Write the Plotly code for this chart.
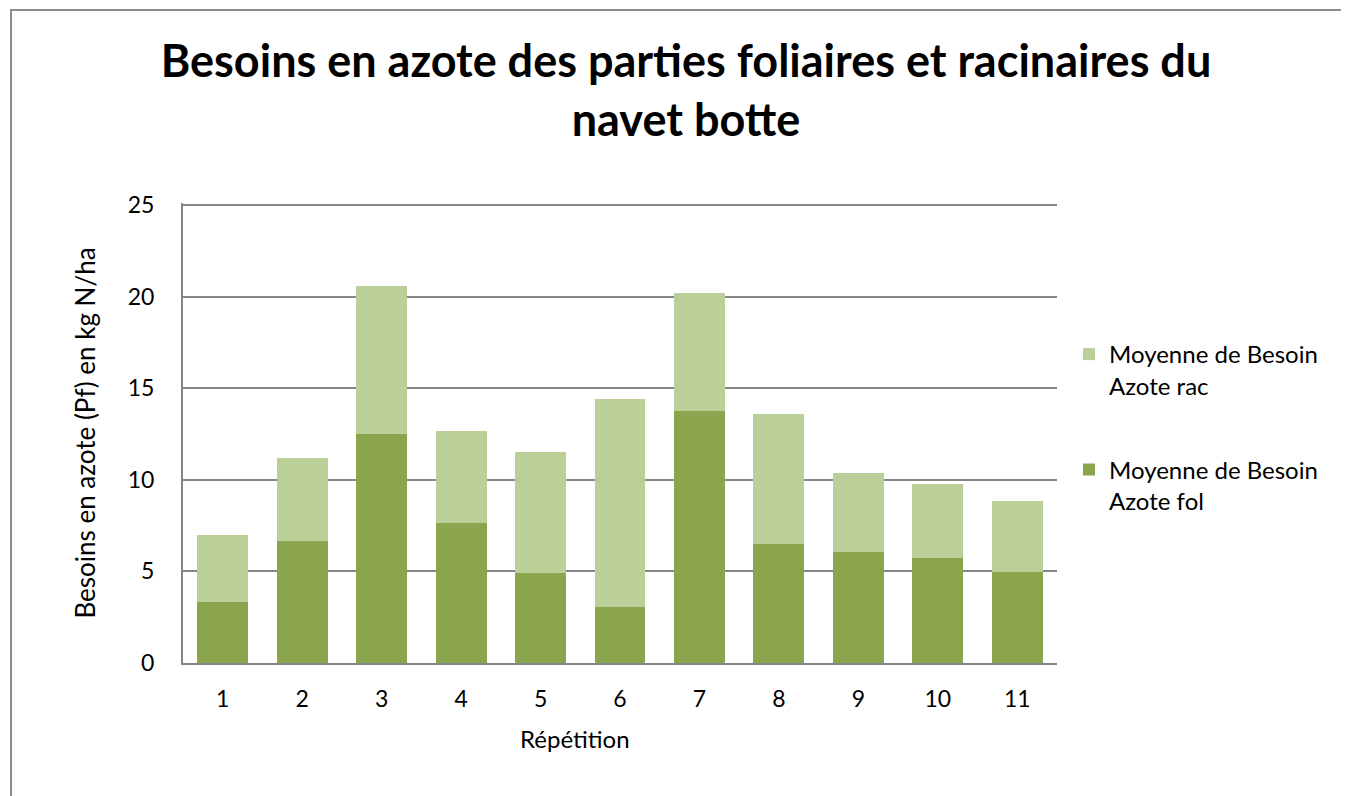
import plotly.graph_objects as go

categories = ["1", "2", "3", "4", "5", "6", "7", "8", "9", "10", "11"]
azote_fol = [3.31, 6.68, 12.52, 7.66, 4.93, 3.04, 13.73, 6.48, 6.04, 5.75, 4.97]
azote_rac = [3.66, 4.51, 8.04, 4.98, 6.57, 11.35, 6.47, 7.11, 4.31, 4.02, 3.89]
y_ticks = [0, 5, 10, 15, 20, 25]

FONT = "Lato"
GRID = "#868686"

fig = go.Figure()
fig.add_trace(go.Bar(
    x=categories, y=azote_fol, name="Moyenne de Besoin<br>Azote fol",
    marker=dict(color="#8AA54E", line=dict(width=0)), legendgroup="fol",
    legendrank=2,
))
fig.add_trace(go.Bar(
    x=categories, y=azote_rac, name="Moyenne de Besoin<br>Azote rac",
    marker=dict(color="#BBCF98", line=dict(width=0)), legendgroup="rac",
    legendrank=1,
))

# page body has an 8px margin, so figure coordinates = screen - 8
W, H = 1341, 788
y_top_extra = 2 * 25 / 458  # keep the 25 gridline just inside the plot area
L, R, T, B = 175, 292, 195, 133
pw, ph = W - L - R, H - T - B

fig.update_layout(
    width=W, height=H,
    margin=dict(l=L, r=R, t=T, b=B, autoexpand=False),
    barmode="stack", bargap=0.36,
    paper_bgcolor="white", plot_bgcolor="white",
    font=dict(family=FONT, size=24, color="#000000"),
    title=dict(
        text="<b>Besoins en azote des parties foliaires et racinaires du<br>navet botte</b>",
        x=678 / W, xref="container", xanchor="center",
        y=1 - 69 / H, yanchor="top",
        font=dict(family=FONT, size=45, color="#000000"),
    ),
    legend=dict(
        x=(1061 - L) / pw, xanchor="left",
        y=(T + ph - 324) / ph, yanchor="top",
        traceorder="grouped", tracegroupgap=50,
        valign="top",
        font=dict(family=FONT, size=24, color="#000000"),
        bgcolor="rgba(0,0,0,0)",
    ),
    xaxis=dict(
        showline=True, linecolor=GRID, linewidth=2,
        ticks="", ticklabelstandoff=14,
        tickfont=dict(family=FONT, size=23),
    ),
    yaxis=dict(
        title=dict(text="Besoins en azote (Pf) en kg N/ha", font=dict(family=FONT, size=26), standoff=25),
        range=[0, 25 + y_top_extra], tickvals=y_ticks,
        showline=True, linecolor=GRID, linewidth=2,
        showgrid=True, gridcolor=GRID, gridwidth=1.5,
        zeroline=False, ticks="", ticklabelstandoff=22,
        tickfont=dict(family=FONT, size=23),
    ),
    annotations=[dict(
        text="Répétition", xref="paper", yref="paper",
        x=(567 - L) / pw, y=(T + ph - 730) / ph,
        xanchor="center", yanchor="middle", showarrow=False,
        font=dict(family=FONT, size=24, color="#000000"),
    )],
    shapes=[dict(
        type="rect", xref="paper", yref="paper",
        x0=(3 - L) / pw, x1=(W + 20 - L) / pw,
        y0=(T + ph - (H + 20)) / ph, y1=(T + ph - 2) / ph,
        line=dict(color="#8C8C8C", width=2), fillcolor="rgba(0,0,0,0)",
        layer="below",
    )],
)

fig.write_html("out.html")
